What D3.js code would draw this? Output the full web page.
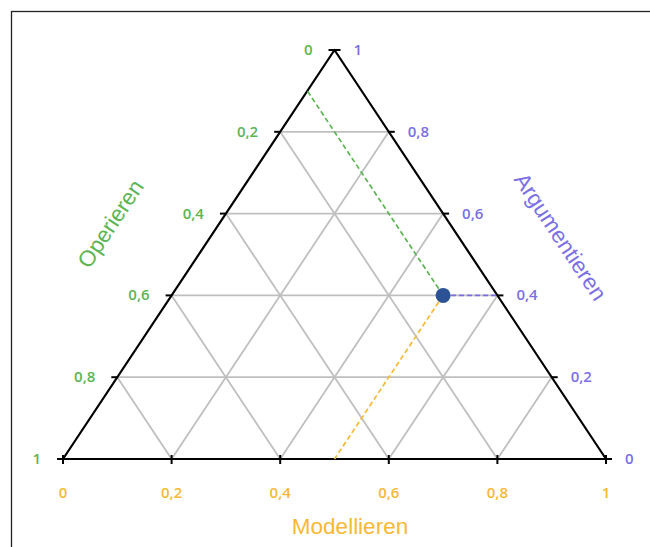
<!DOCTYPE html>
<html><head><meta charset="utf-8">
<script src="https://cdn.jsdelivr.net/npm/d3@7"></script>
<style>body{margin:0;background:#fff;}svg{display:block;}</style>
</head><body>
<script>
// Data
const axes = ["Modellieren", "Argumentieren", "Operieren"];
const tickValues = [0, 0.2, 0.4, 0.6, 0.8, 1];
const tickLabels = ["0", "0,2", "0,4", "0,6", "0,8", "1"];
const gridValues = [0.2, 0.4, 0.6, 0.8];
const pointModellieren = [0.5];
const pointArgumentieren = [0.4];
const pointOperieren = [0.1];

const W = 650, H = 547;
const svg = d3.select("body").append("svg").attr("width", W).attr("height", H);

const cGreen = "#5cb552", cPurple = "#7b6fe3", cOrange = "#f7b935", cPoint = "#2d5195";
const font = "'Liberation Sans', Arial, sans-serif";
const tickFont = "'Open Sans', 'Liberation Sans', sans-serif";

// frame
svg.append("rect").attr("x", 11.5).attr("y", 11.5).attr("width", 700).attr("height", 700)
  .attr("fill", "none").attr("stroke", "#222").attr("stroke-width", 1.3);

// scales: horizontal along base (Modellieren), vertical height (Argumentieren)
const xBase = d3.scaleLinear().domain([0, 1]).range([63, 606]);
const yH = d3.scaleLinear().domain([0, 1]).range([459, 50]);
// point = a*top + m*BR + o*BL
function P(m, a) {
  const o = 1 - m - a;
  const top = [xBase(0.5), yH(1)], br = [xBase(1), yH(0)], bl = [xBase(0), yH(0)];
  return [a * top[0] + m * br[0] + o * bl[0], a * top[1] + m * br[1] + o * bl[1]];
}
const line = d3.line();

// grid
const g = svg.append("g").attr("stroke", "#bfbfbf").attr("stroke-width", 1.8).attr("fill", "none");
gridValues.forEach(v => {
  g.append("path").attr("d", line([P(0, v), P(1 - v, v)]));
  g.append("path").attr("d", line([P(v, 0), P(v, 1 - v)]));
  g.append("path").attr("d", line([P(1 - v, 0), P(0, 1 - v)]));
});

// triangle
svg.append("path").attr("d", line([P(0, 0), P(1, 0), P(0, 1)]) + "Z")
  .attr("fill", "none").attr("stroke", "#000").attr("stroke-width", 2.2).attr("stroke-linejoin", "round");

// ticks
const tk = svg.append("g").attr("stroke", "#000").attr("stroke-width", 2);
tickValues.forEach(v => {
  const pl = P(0, 1 - v);
  tk.append("line").attr("x1", pl[0] - 6).attr("x2", pl[0]).attr("y1", pl[1]).attr("y2", pl[1]);
  const pr = P(1 - v, v);
  tk.append("line").attr("x1", pr[0]).attr("x2", pr[0] + 6).attr("y1", pr[1]).attr("y2", pr[1]);
  const pb = P(v, 0);
  tk.append("line").attr("x1", pb[0]).attr("x2", pb[0]).attr("y1", pb[1] - 4).attr("y2", pb[1] + 5);
});

// tick labels
const fs = 15;
tickValues.forEach((v, i) => {
  const pl = P(0, 1 - v);
  svg.append("text").attr("x", pl[0] - 22).attr("y", pl[1] + 5).attr("text-anchor", "end")
    .attr("fill", cGreen).attr("font-family", tickFont).attr("font-weight", 600).attr("font-size", fs).text(tickLabels[i]);
  const pr = P(1 - v, v);
  svg.append("text").attr("x", pr[0] + 19).attr("y", pr[1] + 5).attr("text-anchor", "start")
    .attr("fill", cPurple).attr("font-family", tickFont).attr("font-weight", 600).attr("font-size", fs).text(tickLabels[i]);
  const pb = P(v, 0);
  svg.append("text").attr("x", pb[0]).attr("y", pb[1] + 39).attr("text-anchor", "middle")
    .attr("fill", cOrange).attr("font-family", tickFont).attr("font-weight", 600).attr("font-size", fs).text(tickLabels[i]);
});

// axis titles
const ang = Math.atan2(yH(0) - yH(1), xBase(0.5) - xBase(0)) * 180 / Math.PI;
const tfs = 22.5;
svg.append("text").attr("transform", `translate(350,534)`).attr("text-anchor", "middle")
  .attr("fill", cOrange).attr("font-family", font).attr("font-size", tfs).text(axes[0]);
svg.append("text").attr("transform", `translate(117,228) rotate(${-ang})`).attr("text-anchor", "middle")
  .attr("fill", cGreen).attr("font-family", font).attr("font-size", tfs).text(axes[2]);
svg.append("text").attr("transform", `translate(554,241) rotate(${ang})`).attr("text-anchor", "middle")
  .attr("fill", cPurple).attr("font-family", font).attr("font-size", tfs).text(axes[1]);

// point + guide lines
pointModellieren.forEach((m, i) => {
  const a = pointArgumentieren[i], o = pointOperieren[i];
  const p = P(m, a);
  svg.append("path").attr("d", line([p, P(0, 1 - o)])).attr("stroke", cGreen)
    .attr("stroke-width", 1.7).attr("stroke-dasharray", "5,3").attr("fill", "none");
  svg.append("path").attr("d", line([p, P(1 - a, a)])).attr("stroke", cPurple)
    .attr("stroke-width", 1.7).attr("stroke-dasharray", "5,3").attr("fill", "none");
  svg.append("path").attr("d", line([p, P(m, 0)])).attr("stroke", cOrange)
    .attr("stroke-width", 1.7).attr("stroke-dasharray", "5,3").attr("fill", "none");
  svg.append("circle").attr("cx", p[0]).attr("cy", p[1]).attr("r", 7.5).attr("fill", cPoint);
});
</script>
</body></html>
